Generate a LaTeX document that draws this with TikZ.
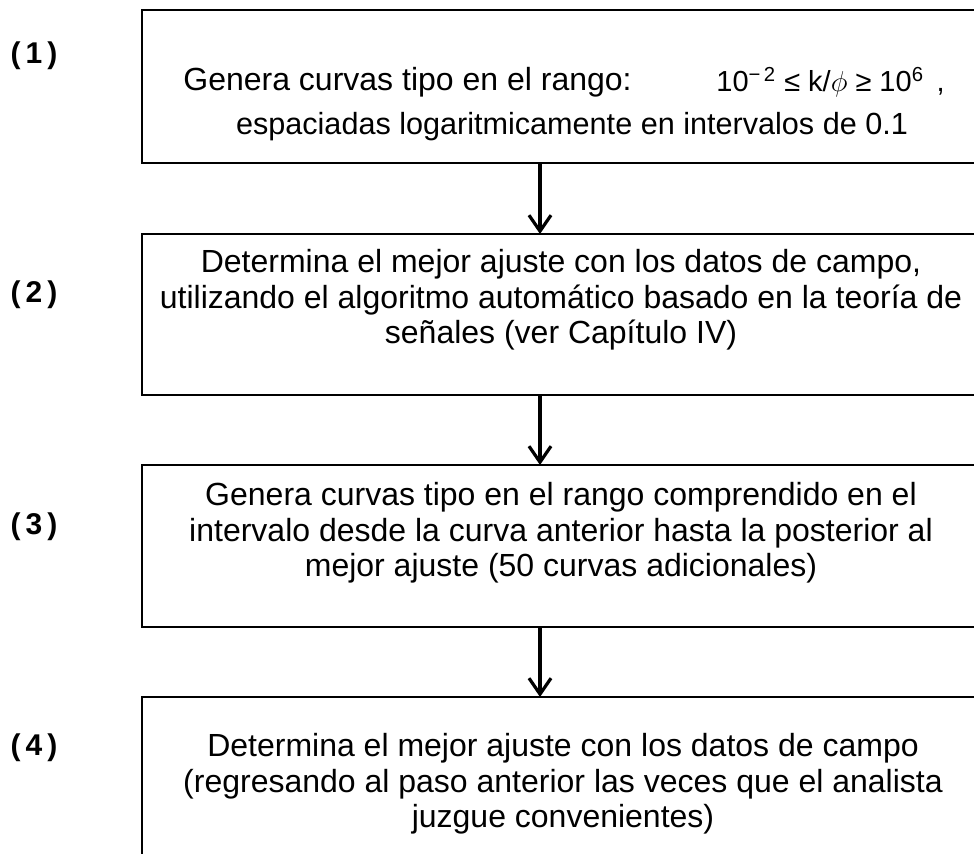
\documentclass[tikz,border=0pt]{standalone}
\usepackage{fontspec}
\setmainfont{Liberation Sans}
\usetikzlibrary{arrows.meta}
\usetikzlibrary{positioning}

\tikzset{
  stepBox/.style={draw, line width=1pt, inner sep=0pt, outer sep=0pt, minimum width=418pt},
  stepText/.style={align=center, inner sep=0pt, font=\fontsize{16}{17.7}\selectfont},
  stepLabel/.style={inner sep=0pt, font=\bfseries\fontsize{15}{18}\selectfont},
  flecha/.style={line width=1.6pt, -{Straight Barb[length=8pt,width=11pt,line width=1.6pt]}}
}

\begin{document}
\begin{tikzpicture}[x=0.5pt, y=-0.5pt]

\useasboundingbox (0,0) rectangle (974,854);

% --- Cajas ---
\node [stepBox, minimum height=76.5pt] (caja1) at (560,86.5) {};
\node [stepBox, minimum height=80.5pt] (caja2) at (560,314.5) {};
\node [stepBox, minimum height=81pt] (caja3) at (560,546) {};
\node [stepBox, minimum height=87pt] (caja4) at (560,784) {};

% --- Numeracion de pasos ---
\node [stepLabel] (num1) at (34,56) {(\,1\,)};
\node [stepLabel] (num2) at (34,295) {(\,2\,)};
\node [stepLabel] (num3) at (34,527) {(\,3\,)};
\node [stepLabel] (num4) at (34,748) {(\,4\,)};

% --- Textos ---
\node [stepText, anchor=west] (texto1a) at (183,82) {Genera curvas tipo en el rango:};
\node [inner sep=0pt, anchor=west, font=\fontsize{14.5}{16}\selectfont] (rango) at (716,82)
      {10\textsuperscript{−\,2} ≤ k/$\phi$ ≥ 10\textsuperscript{6}\enspace\kern-1pt ,};
\node [stepText, font=\fontsize{15.3}{17}\selectfont] (texto1b) at (572,127) {espaciadas logaritmicamente en intervalos de 0.1};

\node [stepText] (texto2) at (561,300) {Determina el mejor ajuste con los datos de campo,\\
      utilizando el algoritmo automático basado en la teoría de\\
      señales (ver Capítulo IV)};

\node [stepText] (texto3) at (561,533) {Genera curvas tipo en el rango comprendido en el\\
      intervalo desde la curva anterior hasta la posterior al\\
      mejor ajuste (50 curvas adicionales)};

\node [stepText] (texto4) at (563,784) {Determina el mejor ajuste con los datos de campo\\
      (regresando al paso anterior las veces que el analista\\
      juzgue convenientes)};

% --- Flechas ---
\draw [flecha] ([xshift=-10pt]caja1.south) -- ([xshift=-10pt]caja2.north);
\draw [flecha] ([xshift=-10pt]caja2.south) -- ([xshift=-10pt]caja3.north);
\draw [flecha] ([xshift=-10pt]caja3.south) -- ([xshift=-10pt]caja4.north);

\end{tikzpicture}
\end{document}
